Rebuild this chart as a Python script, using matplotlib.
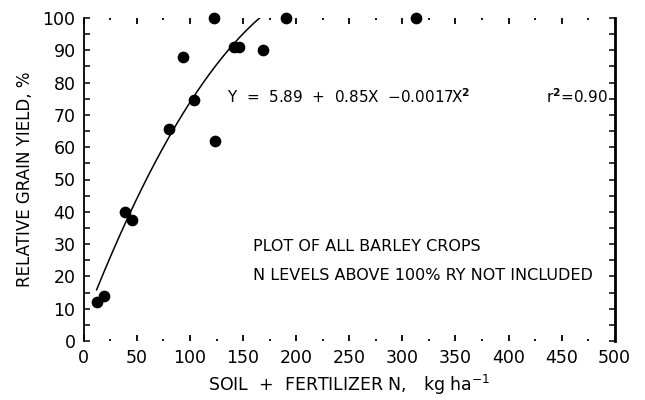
"""Relative grain yield of barley vs. soil + fertilizer N."""

import matplotlib
matplotlib.use("Agg")
import matplotlib.pyplot as plt
from matplotlib.ticker import MultipleLocator
import numpy as np

# ── data ────────────────────────────────────────────────────────────────────
n_supply = [12, 19, 39, 45, 80, 93, 104, 123, 124, 141, 146, 169, 190, 313]
rel_yield = [12, 14, 40, 37.5, 65.5, 88, 74.5, 100, 62, 91, 91, 90, 100, 100]

# fitted quadratic printed on the chart
coef_b0, coef_b1, coef_b2 = 5.89, 0.85, -0.0017
fit_range = (12, 170)

x_ticks = [0, 50, 100, 150, 200, 250, 300, 350, 400, 450, 500]
y_ticks = [0, 10, 20, 30, 40, 50, 60, 70, 80, 90, 100]

plt.rcParams["font.family"] = ["DejaVu Sans"]

fig = plt.figure(figsize=(6.45, 4.0), dpi=100)
ax = fig.add_axes([0.130, 0.1475, 0.823, 0.8075])

# fitted curve
xf = np.linspace(*fit_range, 200)
yf = coef_b0 + coef_b1 * xf + coef_b2 * xf ** 2
ax.plot(xf, yf, color="black", lw=1.1)

ax.scatter(n_supply, rel_yield, s=55, color="black", zorder=3, clip_on=False)

ax.set_xlim(0, 500)
ax.set_ylim(0, 100)
ax.set_xticks(x_ticks)
ax.set_yticks(y_ticks)
ax.xaxis.set_minor_locator(MultipleLocator(25))
ax.yaxis.set_minor_locator(MultipleLocator(5))

# spines: solid left/right, dotted-tick top/bottom
ax.spines["top"].set_visible(False)
ax.spines["bottom"].set_visible(False)
ax.spines["left"].set_linewidth(1.3)
ax.spines["right"].set_linewidth(2.0)

ax.tick_params(axis="x", which="major", direction="in", length=4, width=1.3,
               top=True, bottom=True, labelsize=12.5, pad=6)
ax.tick_params(axis="x", which="minor", direction="in", length=1.5, width=1.3,
               top=True, bottom=True)
ax.tick_params(axis="y", which="both", direction="in", length=4, width=1.1,
               left=True, right=True, labelsize=12.5, pad=6)

ax.set_xlabel("SOIL  +  FERTILIZER N,   kg ha$^{-1}$", fontsize=12.5, labelpad=4)
ax.set_ylabel("RELATIVE GRAIN YIELD, %", fontsize=12, labelpad=6)

ax.text(135, 75.5, "Y  =  5.89  +  0.85X  \u22120.0017X$^{\\mathbf{2}}$",
        fontsize=11, va="center", ha="left")
ax.text(494, 75.5, "r$^{\\mathbf{2}}$=0.90", fontsize=11, va="center", ha="right")
ax.text(159, 29.2, "PLOT OF ALL BARLEY CROPS", fontsize=11.5, va="center")
ax.text(159, 20.4, "N LEVELS ABOVE 100% RY NOT INCLUDED", fontsize=11.5, va="center")

fig.savefig("out.png", dpi=100)
plt.close(fig)
